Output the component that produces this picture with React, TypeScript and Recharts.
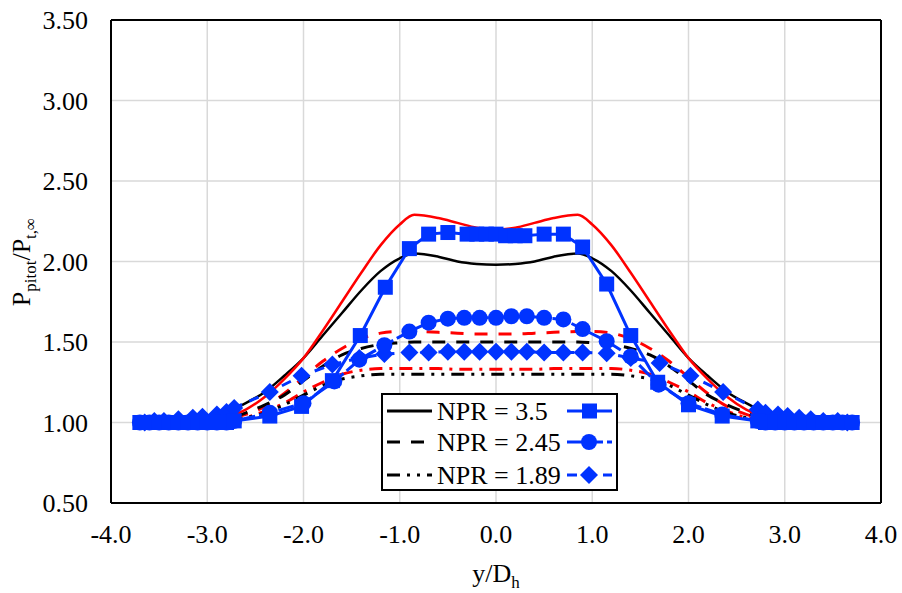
import React from 'react';
import { ComposedChart, Line, XAxis, YAxis, CartesianGrid, ReferenceLine } from 'recharts';

const BLUE = '#0033FF';
const RED = '#FF0000';
const FONT = '"Liberation Serif", "Times New Roman", serif';

const xTicks = [-4, -3, -2, -1, 0, 1, 2, 3, 4];
const yTicks = [0.5, 1, 1.5, 2, 2.5, 3, 3.5];

const legendLabels = ['NPR = 3.5', 'NPR = 2.45', 'NPR = 1.89'];

// CFD curves (smooth lines)
const cfdX = [-3.7, -3.0, -2.8, -2.6, -2.4, -2.2, -2.0, -1.8, -1.6, -1.4, -1.2, -1.0, -0.85, -0.6, -0.4, -0.2, 0,
  0.2, 0.4, 0.6, 0.85, 1.0, 1.2, 1.4, 1.6, 1.8, 2.0, 2.2, 2.4, 2.6, 2.8, 3.0, 3.7];
const cfd35Black = [1.00, 1.02, 1.06, 1.12, 1.19, 1.29, 1.40, 1.54, 1.68, 1.82, 1.94, 2.02, 2.05, 2.03, 2.00, 1.985, 1.98,
  1.985, 2.00, 2.03, 2.05, 2.02, 1.94, 1.82, 1.68, 1.54, 1.40, 1.29, 1.19, 1.12, 1.06, 1.02, 1.00];
const cfd35Red = [1.00, 1.005, 1.03, 1.08, 1.16, 1.27, 1.40, 1.57, 1.75, 1.93, 2.10, 2.23, 2.29, 2.27, 2.24, 2.21, 2.20,
  2.21, 2.24, 2.27, 2.29, 2.23, 2.10, 1.93, 1.75, 1.57, 1.40, 1.27, 1.16, 1.08, 1.03, 1.005, 1.00];
const cfd245Black = [1.00, 1.00, 1.02, 1.06, 1.11, 1.17, 1.26, 1.35, 1.42, 1.46, 1.485, 1.495, 1.50, 1.50, 1.50, 1.50, 1.50,
  1.50, 1.50, 1.50, 1.50, 1.495, 1.485, 1.46, 1.42, 1.35, 1.26, 1.17, 1.11, 1.06, 1.02, 1.00, 1.00];
const cfd245Red = [1.00, 1.00, 1.02, 1.05, 1.10, 1.18, 1.28, 1.38, 1.46, 1.52, 1.555, 1.565, 1.565, 1.56, 1.555, 1.55, 1.55,
  1.55, 1.555, 1.56, 1.565, 1.565, 1.555, 1.52, 1.46, 1.38, 1.28, 1.18, 1.10, 1.05, 1.02, 1.00, 1.00];
const cfd189Black = [1.00, 1.00, 1.01, 1.03, 1.06, 1.11, 1.17, 1.23, 1.27, 1.29, 1.30, 1.30, 1.30, 1.30, 1.30, 1.30, 1.30,
  1.30, 1.30, 1.30, 1.30, 1.30, 1.30, 1.29, 1.27, 1.23, 1.17, 1.11, 1.06, 1.03, 1.01, 1.00, 1.00];
const cfd189Red = [1.00, 1.00, 1.01, 1.03, 1.07, 1.12, 1.19, 1.25, 1.30, 1.325, 1.335, 1.335, 1.335, 1.335, 1.33, 1.33, 1.33,
  1.33, 1.33, 1.335, 1.335, 1.335, 1.335, 1.325, 1.30, 1.25, 1.19, 1.12, 1.07, 1.03, 1.01, 1.00, 1.00];

// Experimental points
const sqX = [-3.7, -3.6, -3.5, -3.4, -3.3, -3.2, -3.1, -3.0, -2.9, -2.8, -2.72, -2.35, -2.02, -1.70, -1.41, -1.15, -0.90,
  -0.70, -0.50, -0.30, -0.20, -0.10, 0, 0.10, 0.20, 0.30, 0.50, 0.70, 0.90, 1.15, 1.40, 1.68, 2.00, 2.35, 2.72,
  2.8, 2.9, 3.0, 3.1, 3.2, 3.3, 3.4, 3.5, 3.6, 3.7];
const sqY = [1.00, 1.00, 1.00, 1.00, 1.00, 1.00, 1.00, 1.00, 1.00, 1.00, 1.01, 1.04, 1.10, 1.26, 1.54, 1.84, 2.08,
  2.17, 2.18, 2.17, 2.17, 2.17, 2.17, 2.16, 2.16, 2.16, 2.17, 2.17, 2.09, 1.86, 1.54, 1.25, 1.11, 1.04, 1.01,
  1.00, 1.00, 1.00, 1.00, 1.00, 1.00, 1.00, 1.00, 1.00, 1.00];

const ciX = [-3.7, -3.6, -3.5, -3.4, -3.3, -3.2, -3.1, -3.0, -2.9, -2.8, -2.72, -2.35, -2.0, -1.68, -1.42, -1.16, -0.9,
  -0.7, -0.5, -0.33, -0.17, 0, 0.16, 0.32, 0.5, 0.7, 0.9, 1.15, 1.4, 1.69, 2.0, 2.35, 2.72,
  2.8, 2.9, 3.0, 3.1, 3.2, 3.3, 3.4, 3.5, 3.6, 3.7];
const ciY = [1.00, 1.00, 1.00, 1.00, 1.00, 1.00, 1.00, 1.00, 1.00, 1.00, 1.01, 1.06, 1.12, 1.255, 1.39, 1.48, 1.565,
  1.62, 1.645, 1.65, 1.65, 1.65, 1.66, 1.66, 1.65, 1.64, 1.58, 1.505, 1.41, 1.235, 1.12, 1.05, 1.01,
  1.00, 1.00, 1.00, 1.00, 1.00, 1.00, 1.00, 1.00, 1.00, 1.00];

const diX = [-3.65, -3.55, -3.45, -3.3, -3.15, -3.05, -2.9, -2.8, -2.72, -2.35, -2.02, -1.7, -1.42, -1.16,
  -0.9, -0.7, -0.5, -0.33, -0.17, 0, 0.16, 0.32, 0.5, 0.7, 0.9, 1.15, 1.4, 1.7, 2.02, 2.36, 2.72,
  2.8, 2.93, 3.03, 3.15, 3.27, 3.4, 3.55, 3.65];
const diY = [1.00, 1.01, 1.01, 1.02, 1.03, 1.035, 1.05, 1.065, 1.09, 1.19, 1.29, 1.36, 1.40, 1.425,
  1.435, 1.435, 1.44, 1.44, 1.44, 1.44, 1.44, 1.44, 1.435, 1.435, 1.435, 1.43, 1.40, 1.37, 1.29, 1.19, 1.08,
  1.06, 1.05, 1.04, 1.03, 1.02, 1.01, 1.01, 1.00];

const toPts = (xs: number[], ys: number[]) => xs.map((x, i) => ({ x, y: ys[i] }));

const SquareDot = (p: any) => {
  const { cx, cy, index } = p;
  if (cx == null || cy == null) return <g key={`s${index}`} />;
  return <rect key={`s${index}`} x={cx - 7.5} y={cy - 7.5} width={15} height={15} fill={BLUE} />;
};
const CircleDot = (p: any) => {
  const { cx, cy, index } = p;
  if (cx == null || cy == null) return <g key={`c${index}`} />;
  return <circle key={`c${index}`} cx={cx} cy={cy} r={8} fill={BLUE} />;
};
const DiamondDot = (p: any) => {
  const { cx, cy, index } = p;
  if (cx == null || cy == null) return <g key={`d${index}`} />;
  return <path key={`d${index}`} d={`M${cx},${cy - 9}L${cx + 9},${cy}L${cx},${cy + 9}L${cx - 9},${cy}Z`} fill={BLUE} />;
};

const YTitle = () => (
  <text transform="translate(30,262) rotate(-90)" textAnchor="middle" fontFamily={FONT} fontSize={26} fill="#000">
    <tspan>P</tspan>
    <tspan fontSize={17} dy={6}>pitot</tspan>
    <tspan dy={-6}>/P</tspan>
    <tspan fontSize={17} dy={6}>t,∞</tspan>
  </text>
);

const XTitle = () => (
  <text x={496} y={582} textAnchor="middle" fontFamily={FONT} fontSize={26} fill="#000">
    <tspan>y/D</tspan>
    <tspan fontSize={17} dy={6}>h</tspan>
  </text>
);

const AxisTick = (props: any) => {
  const { x, y, payload, orient } = props;
  const v = payload.value as number;
  if (orient === 'left') {
    return (
      <text x={x} y={y + 9} textAnchor="end" fontFamily={FONT} fontSize={26} fill="#000">{v.toFixed(2)}</text>
    );
  }
  return (
    <text x={x} y={y + 18} textAnchor="middle" fontFamily={FONT} fontSize={26} fill="#000">{v.toFixed(1)}</text>
  );
};

const LegendBox = () => {
  const rows = [18, 49, 82];
  const blackDash = [undefined, '13 11', '13 7 3 7 3 7'];
  const blueDash = [undefined, '16 4', '10 8'];
  return (
    <svg width={238} height={98} style={{ position: 'absolute', left: 381, top: 393 }}>
      <rect x={1} y={1} width={235} height={96} fill="#fff" stroke="#000" strokeWidth={2} />
      {rows.map((ry, i) => (
        <g key={i}>
          <line x1={6} x2={51} y1={ry} y2={ry} stroke="#000" strokeWidth={3} strokeDasharray={blackDash[i]} />
          <text x={56} y={ry + 9} fontFamily={FONT} fontSize={26} fill="#000">{legendLabels[i]}</text>
          <line x1={186} x2={231} y1={ry} y2={ry} stroke={BLUE} strokeWidth={3} strokeDasharray={blueDash[i]} />
          {i === 0 && <rect x={201} y={ry - 7.5} width={15} height={15} fill={BLUE} />}
          {i === 1 && <circle cx={208} cy={ry} r={8} fill={BLUE} />}
          {i === 2 && <path d={`M208,${ry - 9}L217,${ry}L208,${ry + 9}L199,${ry}Z`} fill={BLUE} />}
        </g>
      ))}
    </svg>
  );
};

export default function App() {
  return (
    <div style={{ position: 'absolute', left: 0, top: 0, width: 902, height: 593, background: '#fff', fontFamily: FONT }}>
      <ComposedChart width={902} height={593} margin={{ top: 20, right: 21, bottom: 30, left: 0 }} style={{ fontFamily: FONT }}>
        <CartesianGrid stroke="#d9d9d9" strokeWidth={1.5} horizontalValues={yTicks} verticalValues={xTicks} />
        <XAxis dataKey="x" type="number" domain={[-4, 4]} ticks={xTicks} allowDataOverflow
          height={60} tickSize={0} tickMargin={22}
          axisLine={{ stroke: '#000', strokeWidth: 2 }}
          tick={<AxisTick orient="bottom" />} label={<XTitle />} />
        <YAxis type="number" domain={[0.5, 3.5]} ticks={yTicks} allowDataOverflow width={111}
          tickSize={0} tickMargin={23}
          axisLine={{ stroke: '#000', strokeWidth: 2 }}
          tick={<AxisTick orient="left" />} label={<YTitle />} />
        <ReferenceLine y={3.5} stroke="#000" strokeWidth={2} />
        <ReferenceLine x={4} stroke="#000" strokeWidth={2} />

        <Line data={toPts(cfdX, cfd189Red)} dataKey="y" type="monotone" stroke={RED} strokeWidth={3}
          strokeDasharray="13 7 3 7" dot={false} isAnimationActive={false} />
        <Line data={toPts(cfdX, cfd189Black)} dataKey="y" type="monotone" stroke="#000" strokeWidth={3}
          strokeDasharray="13 7 3 7 3 7" dot={false} isAnimationActive={false} />
        <Line data={toPts(cfdX, cfd245Red)} dataKey="y" type="monotone" stroke={RED} strokeWidth={3}
          strokeDasharray="13 11" dot={false} isAnimationActive={false} />
        <Line data={toPts(cfdX, cfd245Black)} dataKey="y" type="monotone" stroke="#000" strokeWidth={3}
          strokeDasharray="13 11" dot={false} isAnimationActive={false} />
        <Line data={toPts(cfdX, cfd35Black)} dataKey="y" type="monotone" stroke="#000" strokeWidth={2.5}
          dot={false} isAnimationActive={false} />
        <Line data={toPts(cfdX, cfd35Red)} dataKey="y" type="monotone" stroke={RED} strokeWidth={2.5}
          dot={false} isAnimationActive={false} />

        <Line data={toPts(diX, diY)} dataKey="y" type="linear" stroke={BLUE} strokeWidth={3}
          strokeDasharray="10 8" dot={DiamondDot} activeDot={false} isAnimationActive={false} />
        <Line data={toPts(ciX, ciY)} dataKey="y" type="linear" stroke={BLUE} strokeWidth={3}
          strokeDasharray="16 4" dot={CircleDot} activeDot={false} isAnimationActive={false} />
        <Line data={toPts(sqX, sqY)} dataKey="y" type="linear" stroke={BLUE} strokeWidth={3}
          dot={SquareDot} activeDot={false} isAnimationActive={false} />
      </ComposedChart>
      <LegendBox />
    </div>
  );
}
